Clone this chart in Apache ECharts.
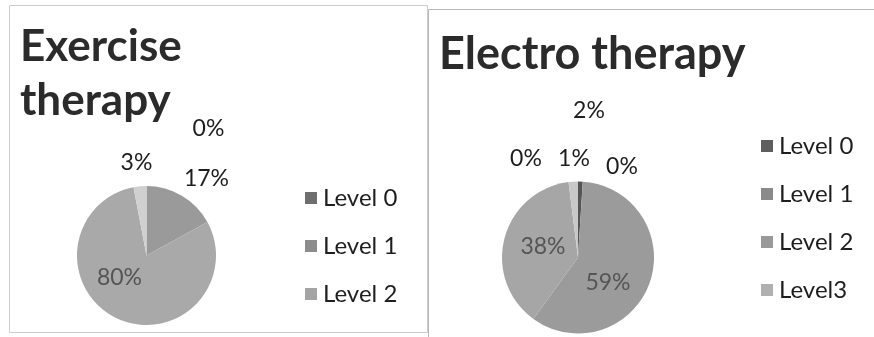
<!DOCTYPE html>
<html><head><meta charset="utf-8">
<script src="https://cdn.jsdelivr.net/npm/echarts@6/dist/echarts.min.js"></script>
<style>html,body{margin:0;padding:0;background:#fff}#c{width:874px;height:337px}</style>
</head><body><div id="c"></div>
<script>
// ---- data ----
const exerciseCategories = ['Level 0', 'Level 1', 'Level 2', 'Level 3'];
const exerciseValues = [0, 17, 80, 3];
const exerciseLegend = ['Level 0', 'Level 1', 'Level 2'];

const electroCategories = ['Level 0', 'Level 1', 'Level 2', 'Level3', 'Level 4', 'Level 5'];
const electroValues = [1, 59, 38, 2, 0, 0];
const electroLegend = ['Level 0', 'Level 1', 'Level 2', 'Level3'];

// ---- style ----
const exColors = ['#6e6e6e', '#9a9a9a', '#a9a9a9', '#d0d0d0'];
const exLegendColors = ['#6e6e6e', '#8c8c8c', '#a4a4a4'];
const elColors = ['#555555', '#9b9b9b', '#a6a6a6', '#c8c8c8', '#bbbbbb', '#bbbbbb'];
const elLegendColors = ['#5e5e5e', '#8a8a8a', '#999999', '#b0b0b0'];
// label offsets from pie centre (style only)
const exLabelOff = [[62, -127], [60, -77], [-27, 22], [-10, -93]];
const elLabelOff = [[-4, -99], [30, 25], [-35, -11], [11, -147], [-52, -99], [44, -91]];
const exInside = [false, false, true, false];
const elInside = [false, true, true, false, false, false];

const exCenter = [146.5, 255.5], exR = 69.5;
const elCenter = [578, 257.5], elR = 76;

function build(cats, vals, colors, inside) {
  return cats.map((n, i) => ({
    name: n, value: vals[i],
    itemStyle: { color: colors[i] },
    label: { color: inside[i] ? '#555' : '#1e1e1e' }
  }));
}
function layoutFn(center, offs) {
  return function (p) {
    const o = offs[p.dataIndex];
    return { x: center[0] + o[0], y: center[1] + o[1], align: 'center', verticalAlign: 'middle' };
  };
}
const labelFont = { fontFamily: 'Lato', fontSize: 23 };

const chart = echarts.init(document.getElementById('c'), null, { renderer: 'canvas' });
chart.setOption({
  backgroundColor: '#fff',
  animation: false,
  graphic: [
    { type: 'rect', shape: { x: 9.5, y: 5.5, width: 418, height: 327 }, style: { fill: 'none', stroke: '#cccccc', lineWidth: 1 } },
    { type: 'rect', shape: { x: 428.5, y: 9.5, width: 450, height: 340 }, style: { fill: 'none', stroke: '#b8b8b8', lineWidth: 1 } }
  ],
  title: [
    { text: 'Exercise\ntherapy', left: 15, top: 15,
      textStyle: { fontFamily: 'Lato', fontWeight: 'bold', fontSize: 44, lineHeight: 54, color: '#2b2b2b' } },
    { text: 'Electro therapy', left: 434, top: 20,
      textStyle: { fontFamily: 'Lato', fontWeight: 'bold', fontSize: 45, lineHeight: 58, color: '#2b2b2b' } }
  ],
  legend: [
    { orient: 'vertical', left: 300, top: 181, itemWidth: 12, itemHeight: 12, itemGap: 24,
      icon: 'rect', selectedMode: false,
      textStyle: { fontFamily: 'Lato', fontSize: 24, lineHeight: 24, color: '#1e1e1e', padding: [0, 0, 0, 1] },
      data: exerciseLegend.map((n, i) => ({ name: n, itemStyle: { color: exLegendColors[i] } })) },
    { orient: 'vertical', left: 756, top: 129, itemWidth: 12, itemHeight: 12, itemGap: 24,
      icon: 'rect', selectedMode: false,
      textStyle: { fontFamily: 'Lato', fontSize: 24, lineHeight: 24, color: '#1e1e1e', padding: [0, 0, 0, 1] },
      data: electroLegend.map((n, i) => ({ name: n, itemStyle: { color: elLegendColors[i] } })) }
  ],
  series: [
    { type: 'pie', center: exCenter, radius: exR, startAngle: 90, clockwise: true,
      avoidLabelOverlap: false, silent: true,
      label: Object.assign({ show: true, position: 'outside', formatter: '{c}%' }, labelFont),
      labelLine: { show: false },
      labelLayout: layoutFn(exCenter, exLabelOff),
      data: build(exerciseCategories, exerciseValues, exColors, exInside) },
    { type: 'pie', center: elCenter, radius: elR, startAngle: 90, clockwise: true,
      avoidLabelOverlap: false, silent: true,
      label: Object.assign({ show: true, position: 'outside', formatter: '{c}%' }, labelFont),
      labelLine: { show: false },
      labelLayout: layoutFn(elCenter, elLabelOff),
      data: build(electroCategories, electroValues, elColors, elInside) }
  ]
});
</script></body></html>
